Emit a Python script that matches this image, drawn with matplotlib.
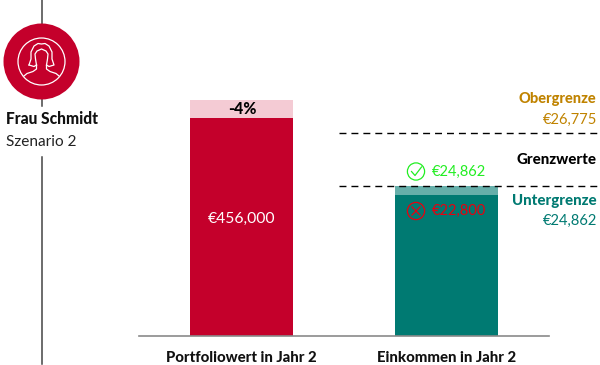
import matplotlib
matplotlib.use("Agg")
import matplotlib.pyplot as plt
from matplotlib.patches import Circle

# Chart data
categories = ["Portfolio", "Einkommen"]
category_labels = ["Portfoliowert in Jahr 2", "Einkommen in Jahr 2"]
# bar lengths as drawn (the chart is not to a common scale)
base_heights = [218, 141]
top_heights = [236, 150]
limit_heights = [150, 203]
portfolio_label = "€456,000"
change_label = "-4%"
pass_label = "€24,862"
fail_label = "€22,800"
upper_title, upper_value = "Obergrenze", "€26,775"
lower_title, lower_value = "Untergrenze", "€24,862"
limits_title = "Grenzwerte"
name_label, scenario_label = "Frau Schmidt", "Szenario 2"

RED = "#C4002B"
PALE_RED = "#F4CBD4"
TEAL = "#007A72"
PALE_TEAL = "#66AFAA"
GOLD = "#C08300"
DTEAL = "#007A72"
GREEN = "#22EE22"
ERR = "#E8000F"
W, H = 600, 365
BLACK = 900

plt.rcParams["font.family"] = ["Lato", "DejaVu Sans"]
fig = plt.figure(figsize=(6, 3.65), dpi=100)

# Chart axes: baseline at y=336
base_y = 336
ax = fig.add_axes([139 / W, (H - base_y) / H, (W - 139) / W, base_y / H])
ax.patch.set_alpha(0)
ax.set_xlim(139, 600)
ax.set_ylim(0, base_y)
for s in ["top", "right", "left"]:
    ax.spines[s].set_visible(False)
ax.spines["bottom"].set_color("#8a8a8a")
ax.spines["bottom"].set_linewidth(1.2)
ax.spines["bottom"].set_bounds(139, 549)
ax.set_yticks([])
centers = [241.5, 446.5]
bar_w = 103
ax.bar(centers, top_heights, width=bar_w, color=[PALE_RED, PALE_TEAL], linewidth=0)
ax.bar(centers, base_heights, width=bar_w, color=[RED, TEAL], linewidth=0)
ax.set_xticks(centers)
ax.set_xticklabels(category_labels, fontsize=10.7, fontweight=BLACK, color="#111111")
ax.tick_params(axis="x", length=0, pad=11)

for h in limit_heights:
    ax.plot([339, 597], [h, h], color="black", lw=1, dashes=(5, 3.6))

# Overlay in pixel coordinates for the annotations, above the chart
ov = fig.add_axes([0, 0, 1, 1], zorder=5)
ov.patch.set_alpha(0)
ov.set_xlim(0, W)
ov.set_ylim(H, 0)
ov.axis("off")

# Bar labels
ov.text(242, 219, portfolio_label, color="white", fontsize=11.3, ha="center", va="center")
ov.text(242, 108.5, change_label, color="black", fontsize=11.4, fontweight=BLACK, ha="center", va="center")
ov.text(432, 171.5, pass_label, color=GREEN, fontsize=10.5, ha="left", va="center")
ov.text(432, 210.5, fail_label, color=ERR, fontsize=10.5, ha="left", va="center")

# Check / cross icons
ov.add_patch(Circle((416, 171.5), 8.6, fc="none", ec=GREEN, lw=0.9))
ov.plot([411.5, 415, 421.5], [171.5, 175.5, 167], color=GREEN, lw=0.9)
ov.add_patch(Circle((416, 211), 8.6, fc="none", ec=ERR, lw=0.9))
ov.plot([412, 420], [207, 215], color=ERR, lw=0.9)
ov.plot([412, 420], [215, 207], color=ERR, lw=0.9)

# Right labels
ov.text(596.5, 98.5, upper_title, color=GOLD, fontsize=10.5, fontweight=BLACK, ha="right", va="center")
ov.text(597, 119.5, upper_value, color=GOLD, fontsize=10.6, ha="right", va="center")
ov.text(596.5, 160, limits_title, color="black", fontsize=10.8, fontweight=BLACK, ha="right", va="center")
ov.text(596.5, 201, lower_title, color=DTEAL, fontsize=10.8, fontweight=BLACK, ha="right", va="center")
ov.text(597, 220.5, lower_value, color=DTEAL, fontsize=10.6, ha="right", va="center")

# Vertical rule with gaps
for y0, y1 in [(0, 24), (99, 106), (157, 364)]:
    ov.plot([41.5, 41.5], [y0, y1], color="#444444", lw=1.1, zorder=1)

# Avatar
ov.add_patch(Circle((41.5, 61.5), 38, fc=RED, ec="none", zorder=2))
ov.add_patch(Circle((41.5, 61.5), 23.5, fc="none", ec="white", lw=0.9, zorder=3))
hair = [(29, 65), (31, 59), (31, 52), (34, 46), (38, 43.5), (41.5, 44), (45, 43.5),
        (49, 46), (52, 52), (52, 59), (54, 65), (49, 66.5), (46.5, 65)]
hair_left = [(29, 65), (34, 66.5), (36.5, 65)]
face = [(36.5, 65), (35.5, 59), (35, 54), (37, 51), (41.5, 49), (46, 51), (48, 54),
        (47.5, 59), (46.5, 65), (46.5, 69), (50, 71.5), (56, 73.5), (59, 76)]
face_left = [(36.5, 65), (36.5, 69), (33, 71.5), (27, 73.5), (24, 76)]
for line in (hair, hair_left, face, face_left):
    ov.plot([v[0] for v in line], [v[1] for v in line], color="white", lw=0.9, zorder=3,
            solid_joinstyle="round")

ov.text(6, 119, name_label, color="#111111", fontsize=11.2, fontweight=BLACK, ha="left", va="center")
ov.text(6, 142, scenario_label, color="#222222", fontsize=11.1, ha="left", va="center")

fig.savefig("out.png", dpi=100)
